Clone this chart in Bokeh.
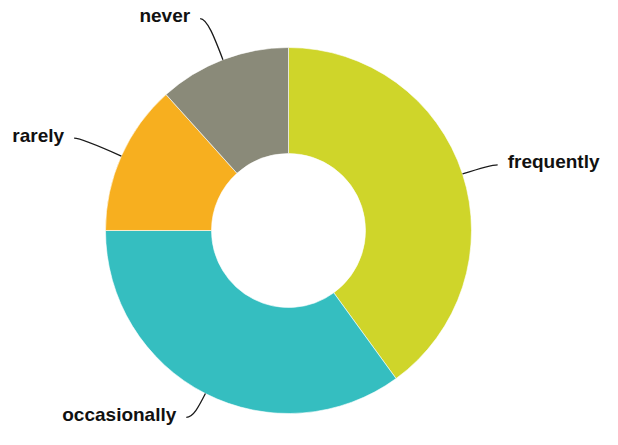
import math
from bokeh.plotting import figure
from bokeh.models import Range1d, ColumnDataSource
from bokeh.core.properties import value
from bokeh.embed import file_html
from bokeh.resources import INLINE

# ---- data ----
labels = ["frequently", "occasionally", "rarely", "never"]
counts = [24, 21, 8, 7]
colors = ["#CFD52A", "#35BEC0", "#F7AF1F", "#8A8A79"]

# ---- layout (picture pixels; data y = H - picture y) ----
W, H = 602, 429
cx, cy = 288, H - 230
R_OUT, R_IN = 183, 77
LEAD = 44      # radial part of leader
HOOK = 7       # horizontal part of leader
GAP = 10       # gap between leader and text
FPX = 19
FONT = "%dpx" % FPX
MARGIN = 3
BASE_FIX = 8   # renderer places alphabetic baseline lower than requested

# approximate Arial Bold advance widths (em) for label width estimates
ADV = {'a': .556, 'c': .556, 'e': .556, 'f': .333, 'i': .278, 'l': .278, 'n': .611,
       'o': .611, 'q': .611, 'r': .389, 's': .556, 't': .333, 'u': .611, 'v': .556,
       'y': .556}


def text_w(s):
    return sum(ADV.get(ch, .6) for ch in s) * FPX


p = figure(width=W, height=H, output_backend="svg", toolbar_location=None,
           x_range=Range1d(0, W), y_range=Range1d(0, H),
           x_axis_type=None, y_axis_type=None, min_border=0,
           outline_line_color=None, background_fill_color="white",
           border_fill_color="white")
p.grid.visible = False

total = float(sum(counts))
starts, ends, mids = [], [], []
cum = 0.0
for c in counts:
    f0 = cum / total
    f1 = (cum + c) / total
    starts.append(math.pi / 2 - 2 * math.pi * f0)
    ends.append(math.pi / 2 - 2 * math.pi * f1)
    mids.append(2 * math.pi * (f0 + f1) / 2)   # clockwise from top
    cum += c

src = ColumnDataSource(dict(start=starts, end=ends, color=colors, label=labels))
p.annular_wedge(x=cx, y=cy, inner_radius=R_IN, outer_radius=R_OUT,
                start_angle="start", end_angle="end", direction="clock",
                fill_color="color", line_color="white", line_width=0.6, source=src)

x0s, y0s, cx0s, cy0s, cx1s, cy1s, x1s, y1s = [], [], [], [], [], [], [], []
tx, ty, align = [], [], []
for th, lab in zip(mids, labels):
    dx, dy = math.sin(th), math.cos(th)
    side = 1 if dx >= 0 else -1
    px, py = cx + R_OUT * dx, cy + R_OUT * dy
    L = LEAD
    tw = text_w(lab)
    # keep the label inside the canvas by shortening the leader if needed
    ex_full = px + L * dx + side * (HOOK + GAP)
    if side > 0:
        over = ex_full + tw - (W - MARGIN)
    else:
        over = MARGIN - (ex_full - tw)
    if over > 0:
        L -= over / abs(dx)
    base = py + L * dy - 5          # text baseline (data y)
    if base - 0.22 * FPX < MARGIN:
        L -= (MARGIN - (base - 0.22 * FPX)) / abs(dy)
    if base + 0.75 * FPX > H - MARGIN:
        L -= (base + 0.75 * FPX - (H - MARGIN)) / abs(dy)
    kx, ky = px + L * dx, py + L * dy
    ex, ey = kx + side * HOOK, ky
    x0s.append(px); y0s.append(py)
    cx0s.append(px + 0.55 * L * dx); cy0s.append(py + 0.55 * L * dy)
    cx1s.append(kx); cy1s.append(ky)
    x1s.append(ex); y1s.append(ey)
    tx.append(ex + side * GAP)
    ty.append(ey - 5 + BASE_FIX)
    align.append("left" if side > 0 else "right")

p.bezier(x0=x0s, y0=y0s, x1=x1s, y1=y1s, cx0=cx0s, cy0=cy0s, cx1=cx1s, cy1=cy1s,
         line_color="#1a1a1a", line_width=1.3)

tsrc = ColumnDataSource(dict(x=tx, y=ty, text=labels, align=align))
p.text(x="x", y="y", text="text", text_align="align", text_baseline="alphabetic",
       text_font=value("Liberation Sans"), text_font_style="bold",
       text_font_size=FONT, text_color="#111111", source=tsrc)

open("out.html", "w").write(file_html(p, INLINE))
